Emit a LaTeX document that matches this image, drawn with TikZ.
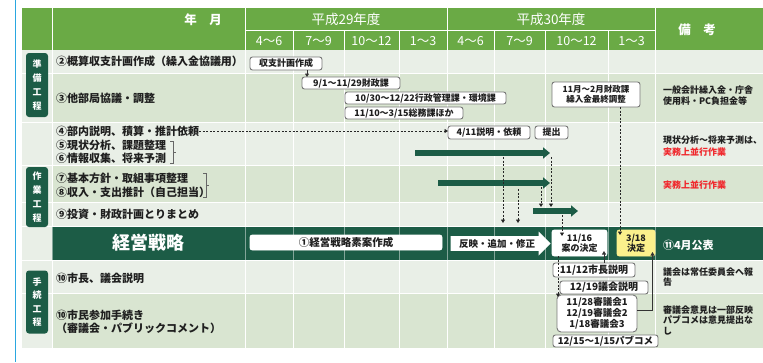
\documentclass[tikz,border=0pt]{standalone}
\usepackage{fontspec}
\setmainfont{Noto Sans CJK JP}
\usetikzlibrary{arrows.meta,shapes.arrows}
\definecolor{hdr}{HTML}{6AAA45}
\definecolor{dk}{HTML}{1C5C46}
\definecolor{rowA}{HTML}{E9EFE7}
\definecolor{rowB}{HTML}{D9E5D1}
\definecolor{blu}{HTML}{2AA7E0}
\definecolor{bx}{HTML}{777777}
\definecolor{yel}{HTML}{FBF08C}
\definecolor{redt}{HTML}{F0282D}
\begin{document}
\begin{tikzpicture}[x=1pt,y=-1pt,
  every node/.style={inner sep=0pt, outer sep=0pt},
  hd/.style={text=white, font=\fontsize{12.5}{14}\selectfont},
  item/.style={anchor=west, align=left, text=black!88, font=\fontsize{11}{13}\selectfont\bfseries},
  note/.style={anchor=west, align=left, text=black!88, font=\fontsize{9}{10.5}\selectfont\bfseries},
  tag/.style={fill=dk, rounded corners=3pt, text=white, align=center, minimum width=22pt, font=\fontsize{9}{14}\selectfont\bfseries},
  box/.style={draw=bx, line width=0.9pt, rounded corners=2.5pt, fill=white, text=black!88, align=center, font=\fontsize{9}{10}\selectfont\bfseries},
  darr/.style={draw=black!85, line width=0.8pt, dash pattern=on 2pt off 1.6pt, -{Triangle[width=4pt,length=3.5pt]}},
  sarr/.style={draw=black!80, line width=0.8pt, -{Triangle[width=4pt,length=3.5pt]}},
  tarr/.style={draw=dk, line width=5.5pt, -{Triangle[width=11pt,length=7pt]}},
  grid/.style={white, line width=1pt}
]
\useasboundingbox (0,0) rectangle (763,362);
\fill[white] (0,0) rectangle (763,362);
\draw[blu, line width=1.8pt] (15.5,0) -- (15.5,362);

% header
\fill[hdr] (22,8) rectangle (763,50);
\draw[grid] (52,8)--(52,50) (245,8)--(245,50) (447,8)--(447,50) (655,8)--(655,50) (245,30)--(655,30);
\foreach \x in {293,344,399,494,545,608} \draw[grid] (\x,30)--(\x,50);
\node[hd, font=\fontsize{12.5}{14}\selectfont\bfseries] (hym) at (203,20) {年　月};
\node[hd, font=\fontsize{13.5}{15}\selectfont] (h29) at (346,19) {平成29年度};
\node[hd, font=\fontsize{13.5}{15}\selectfont] (h30) at (551,19) {平成30年度};
\node[hd, font=\fontsize{12.5}{14}\selectfont\bfseries] (hbk) at (697,30) {備　考};
\node[hd] (q1) at (269,41) {4～6};
\node[hd] (q2) at (318.5,41) {7～9};
\node[hd] (q3) at (371.5,41) {10～12};
\node[hd] (q4) at (423,41) {1～3};
\node[hd] (q5) at (470.5,41) {4～6};
\node[hd] (q6) at (519.5,41) {7～9};
\node[hd] (q7) at (576.5,41) {10～12};
\node[hd] (q8) at (631.5,41) {1～3};

% body rows
\fill[rowA] (22,50) rectangle (763,73);
\fill[rowB] (52,73) rectangle (763,122);
\fill[rowA] (22,122) rectangle (763,165);
\fill[rowB] (52,165) rectangle (763,202);
\fill[rowA] (22,202) rectangle (763,226);
\fill[dk] (52,226) rectangle (763,260);
\fill[rowA] (22,260) rectangle (763,293);
\fill[rowB] (52,293) rectangle (763,348);
\fill[rowA] (22,50) rectangle (52,348);
\foreach \y in {73,122,165,202,226,260,293} \draw[white, line width=.6pt] (22,\y)--(763,\y);
\foreach \x in {52,245,293,344,399,447,494,545,608,655} {
  \draw[grid] (\x,50) -- (\x,226);
  \draw[grid] (\x,260) -- (\x,348);
  \draw[grid, opacity=.45] (\x,226) -- (\x,260);
}

% tags
\node[tag, minimum height=64pt] (tg1) at (37,85) {準\\備\\工\\程};
\node[tag, minimum height=60pt] (tg2) at (37,197) {作\\業\\工\\程};
\node[tag, minimum height=63pt, font=\fontsize{9}{13.5}\selectfont\bfseries] (tg3) at (37,302) {手\\続\\工\\程};

% item texts
\node[item] (t2) at (56,61) {②概算収支計画作成（繰入金協議用）};
\node[item] (t3) at (56,98) {③他部局協議・調整};
\node[item] (t4) at (56,131) {④部内説明、積算・推計依頼};
\node[item] (t5) at (56,145) {⑤現状分析、課題整理};
\node[item] (t6) at (56,158) {⑥情報収集、将来予測};
\node[item] (t7) at (56,178) {⑦基本方針・取組事項整理};
\node[item] (t8) at (56,192) {⑧収入・支出推計（自己担当）};
\node[item] (t9) at (56,214) {⑨投資・財政計画とりまとめ};
\node[text=white, font=\fontsize{18}{20}\selectfont\bfseries] (tk) at (148,243) {経営戦略};
\node[item] (t10a) at (56,278) {⑩市長、議会説明};
\node[item] (t10b) at (56,321.5) {⑩市民参加手続き\\（審議会・パブリックコメント）};

% brackets
\draw[black!60, line width=.7pt] (170,141) -- (173,141) -- (173,163) -- (170,163) (173,152) -- (176,152);
\draw[black!60, line width=.7pt] (203,173) -- (206,173) -- (206,197) -- (203,197) (206,185) -- (209,185);

% gantt boxes
\node[box, minimum width=72pt, minimum height=13pt] (shushi) at (286,63.5) {収支計画作成};
\node[box, minimum width=98pt, minimum height=12pt] (b91) at (351,83) {9/1～11/29財政課};
\node[box, minimum width=161pt, minimum height=12pt] (b1030) at (425.5,98) {10/30～12/22行政管理課・環境課};
\node[box, minimum width=118pt, minimum height=12pt] (b1110) at (404,113) {11/10～3/15総務課ほか};
\node[box, minimum width=88pt, minimum height=25pt, font=\fontsize{8.5}{10}\selectfont\bfseries] (b11m) at (596,94.5) {11月～2月財政課\\繰入金最終調整};
\node[box, minimum width=82pt, minimum height=13pt] (b411) at (489,132.5) {4/11説明・依頼};
\node[box, minimum width=33pt, minimum height=13pt] (tei) at (551.5,132.5) {提出};

\coordinate (a1s) at (415,153); \coordinate (a1e) at (550,153);
\coordinate (a2s) at (438,183); \coordinate (a2e) at (550,183);
\coordinate (a3s) at (533,211); \coordinate (a3e) at (578,211);
\coordinate (rowtop) at (52,226);
\draw[tarr] (a1s) -- (a1e);
\draw[tarr] (a2s) -- (a2e);
\draw[tarr] (a3s) -- (a3e);

% strategy row
\node[box, draw=white, minimum width=192pt, minimum height=15pt, font=\fontsize{10.5}{12}\selectfont\bfseries] (soan) at (346,242.5) {①経営戦略素案作成};
\node[single arrow, fill=white, single arrow head extend=3pt, minimum width=24pt, minimum height=100pt, text=black!88, font=\fontsize{9.5}{11}\selectfont\bfseries] (hanei) at (497,243.5) {反映・追加・修正};
\node[box, draw=white, minimum width=55pt, minimum height=26pt] (an) at (579.5,243) {11/16\\案の決定};
\node[box, draw=yel, fill=yel, minimum width=38pt, minimum height=26pt] (kettei) at (636,243) {3/18\\決定};
\node[anchor=west, text=white, font=\fontsize{11}{13}\selectfont\bfseries] (kohyo) at (663,245) {⑪4月公表};

% procedure boxes
\node[box, minimum width=82pt, minimum height=14pt, font=\fontsize{10}{11}\selectfont\bfseries] (shicho) at (594,270) {11/12市長説明};
\node[box, minimum width=88pt, minimum height=13pt, font=\fontsize{10}{11}\selectfont\bfseries] (gikai) at (604,287.5) {12/19議会説明};
\node[box, minimum width=80pt, minimum height=37pt, rounded corners=4pt, font=\fontsize{9.5}{9.8}\selectfont\bfseries] (shingi) at (597,313.5) {11/28審議会1\\12/19審議会2\\1/18審議会3};
\node[box, minimum width=105pt, minimum height=12pt, font=\fontsize{9.5}{11}\selectfont\bfseries] (pabu) at (605.5,341) {12/15～1/15パブコメ};

% connectors
\coordinate (antop) at ([yshift=-6pt]an.north);
\coordinate (kttop) at ([xshift=3pt,yshift=-5pt]kettei.north west);
\coordinate (ktbot) at ([xshift=-2.5pt,yshift=4pt]kettei.south east);
\coordinate (anbot) at ([xshift=-3pt,yshift=5pt]an.south east);
\coordinate (anleft) at ([xshift=6pt]an.south west);
\coordinate (shtop) at ([yshift=-2pt]shingi.north);
\coordinate (d1) at (551,157);
\coordinate (d2) at (541,187);
\coordinate (d3) at (503,157);
\coordinate (d4) at (518,189);
\coordinate (d5) at (562,215);
\draw[sarr] ([xshift=5pt]b91.north west |- shushi.south) -- ([xshift=5pt]b91.north west);
\draw[darr] (t4.east) -- (t4.east -| b411.west);
\draw[darr] (d1) -- ([yshift=4pt]d1 |- a3s);
\draw[darr] (d2) -- ([yshift=4pt]d2 |- a3s);
\draw[darr] (d3) -- ([yshift=3pt]d3 |- rowtop);
\draw[darr] (d4) -- ([yshift=3pt]d4 |- rowtop);
\draw[darr] (d5) -- (d5 |- antop);
\draw[darr] (kttop |- b11m.south) -- (kttop);
\draw[sarr] ([yshift=3pt]shingi.east) -| (ktbot);
\draw[sarr] (anbot |- shicho.north) -- (anbot);
\draw[darr] (anleft) -- (anleft |- shtop);

% remarks
\node[note] (r1) at (663,95.5) {一般会計繰入金・庁舎\\使用料・PC負担金等};
\node[note] (r2) at (663,140) {現状分析～将来予測は、};
\node[note, text=redt] (r2b) at (663,152) {実務上並行作業};
\node[note, text=redt] (r3) at (663,185) {実務上並行作業};
\node[note] (r5) at (663,277) {議会は常任委員会へ報\\告};
\node[note] (r6) at (663,320) {審議会意見は一部反映\\パブコメは意見提出な\\し};
\end{tikzpicture}
\end{document}
